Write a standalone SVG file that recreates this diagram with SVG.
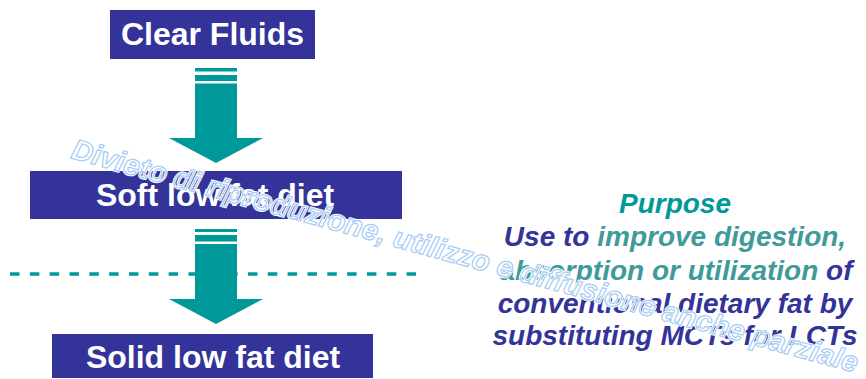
<svg xmlns="http://www.w3.org/2000/svg" width="866" height="379" viewBox="0 0 866 379">
<style>
.box{fill:#333399}
.lbl{font-family:"Liberation Sans",Arial,sans-serif;font-weight:bold;font-size:32px;fill:#ffffff;text-anchor:middle}
.arrow{fill:#009999}
.p{font-family:"Liberation Sans",Arial,sans-serif;font-weight:bold;font-style:italic;font-size:28px;text-anchor:middle}
.dk{fill:#333399}
.tl{fill:#409a9a}
.wm{font-family:"Liberation Sans",Arial,sans-serif;font-weight:bold;font-style:italic;font-size:29px;fill:none}
</style>
<rect width="866" height="379" fill="#ffffff"/>
<g id="connectors">
<line x1="10" y1="274" x2="416" y2="274" stroke="#009999" stroke-width="3.5" stroke-dasharray="9.5 10.33"/>
<g id="arrow1" class="arrow">
<rect x="195" y="68" width="42" height="3.5"/>
<rect x="195" y="75" width="42" height="6"/>
<path d="M195,83.5 H237 V138 H263 L216,163 L169,138 H195 Z"/>
</g>
<g id="arrow2" class="arrow">
<rect x="195" y="229" width="42" height="3"/>
<rect x="195" y="235" width="42" height="6.5"/>
<path d="M195,244 H237 V299 H263 L216,324 L169,299 H195 Z"/>
</g>
</g>
<g id="clear-fluids">
<rect class="box" x="110" y="10" width="205" height="49"/>
<text class="lbl" x="212.5" y="45">Clear Fluids</text>
</g>
<g id="soft-low-fat">
<rect class="box" x="30" y="171" width="372" height="48"/>
<text class="lbl" x="215" y="206">Soft low fat diet</text>
</g>
<g id="solid-low-fat">
<rect class="box" x="52" y="334" width="321" height="44"/>
<text class="lbl" x="213" y="368">Solid low fat diet</text>
</g>
<g id="purpose">
<text class="p" x="675" y="212.5" fill="#009999">Purpose</text>
<text class="p" x="675" y="246"><tspan class="dk">Use to </tspan><tspan class="tl">improve digestion,</tspan></text>
<text class="p" x="676" y="280"><tspan class="tl">absorption or utilization </tspan><tspan class="dk">of</tspan></text>
<text class="p dk" x="675" y="313">conventional dietary fat by</text>
<text class="p dk" x="675" y="345">substituting MCTs for LCTs</text>
</g>
<g id="watermark" transform="translate(70,158) rotate(15.3)">
<text class="wm" x="0" y="0" stroke="#ffffff" stroke-width="3" textLength="814" lengthAdjust="spacing">Divieto di riproduzione, utilizzo e diffusione anche parziale</text>
<text class="wm" x="0" y="0" stroke="#a6cdf5" stroke-width="1.2" textLength="814" lengthAdjust="spacing">Divieto di riproduzione, utilizzo e diffusione anche parziale</text>
</g>
</svg>
